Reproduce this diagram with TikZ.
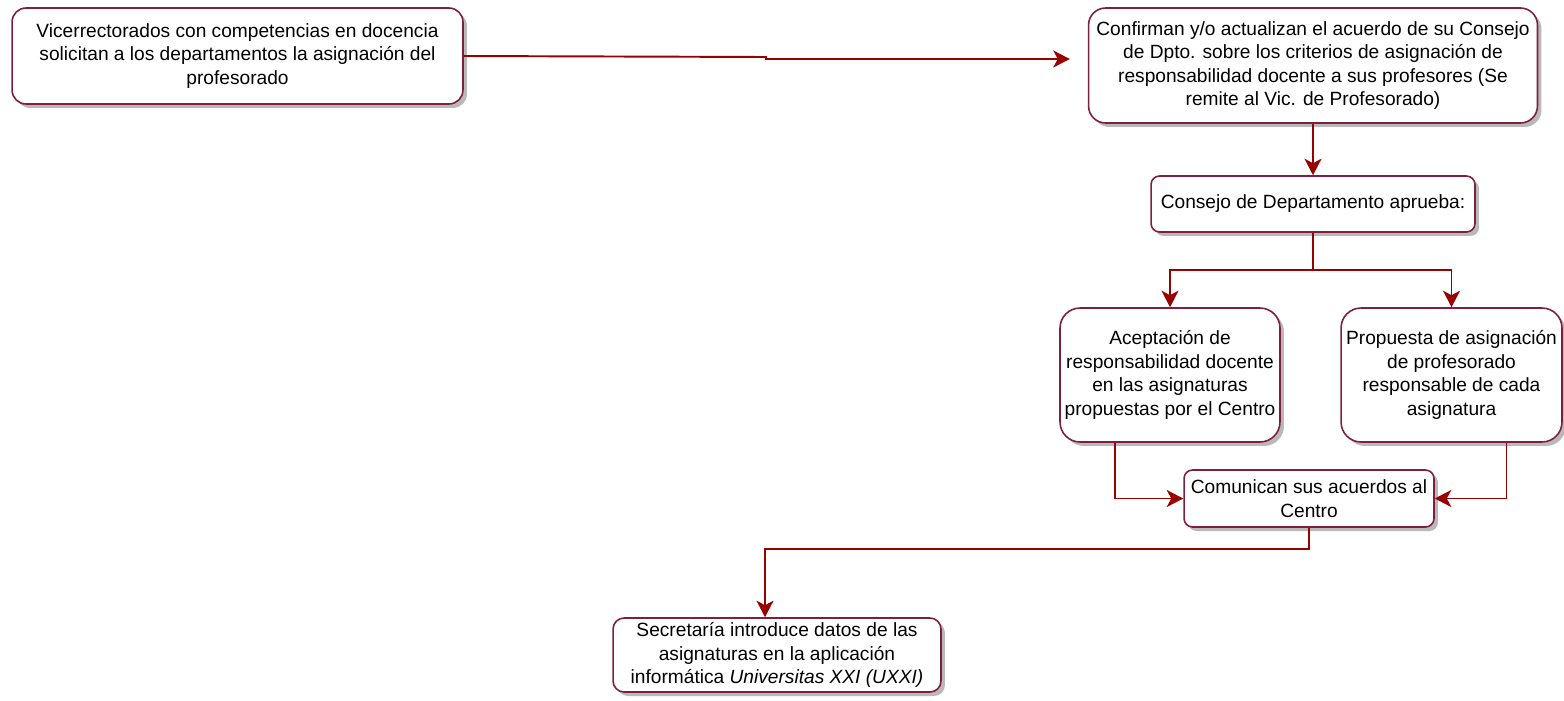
\documentclass[tikz,border=0pt]{standalone}
\usepackage{fontspec}
\setmainfont{Liberation Sans}
\usepackage{tikz}
\usetikzlibrary{arrows.meta}
\usetikzlibrary{positioning,calc,shapes,shadows}
\definecolor{boxline}{HTML}{7E1F42}
\definecolor{flowred}{HTML}{990000}
\tikzset{
    paso/.style={
        draw=boxline,
        fill=white,
        line width=0.9pt,
        align=center,
        inner sep=2pt,
        font=\fontsize{10.9}{13.4}\selectfont,
        drop shadow={shadow xshift=0.08cm, shadow yshift=-0.08cm, fill=black!55, opacity=0.5}
    },
    flow/.style={
        draw=flowred,
        line width=1.1pt,
        -{Stealth[length=0.33cm, width=0.34cm, inset=0.09cm]}
    }
}

\begin{document}
\begin{tikzpicture}[x=0.02cm, y=-0.02cm]
  \useasboundingbox (0,0) rectangle (1564,700);

  % Departamento y vicerrectorados
  \node[paso, rounded corners=0.28cm, minimum width=9.02cm, minimum height=1.92cm] (vic) at (237.5,56)
    {Vicerrectorados con competencias en docencia\\ solicitan a los departamentos la asignación del\\ profesorado};
  \node[paso, rounded corners=0.34cm, minimum width=8.98cm, minimum height=2.30cm] (conf) at (1313,65.5)
    {Confirman y/o actualizan el acuerdo de su Consejo\\ de Dpto. sobre los criterios de asignación de\\ responsabilidad docente a sus profesores (Se\\ remite al Vic. de Profesorado)};
  \node[paso, rounded corners=0.17cm, minimum width=6.48cm, minimum height=1.12cm] (cons) at (1313,204)
    {Consejo de Departamento aprueba:};

  % Las dos ramas
  \node[paso, rounded corners=0.4cm, minimum width=4.40cm, minimum height=2.68cm] (acep) at (1170,375)
    {Aceptación de\\ responsabilidad docente\\ en las asignaturas\\ propuestas por el Centro};
  \node[paso, rounded corners=0.4cm, minimum width=4.42cm, minimum height=2.68cm] (prop) at (1451.5,375)
    {Propuesta de asignación\\ de profesorado\\ responsable de cada\\ asignatura};

  % Centro y secretaria
  \node[paso, rounded corners=0.17cm, minimum width=5.00cm, minimum height=1.14cm] (comu) at (1309,498.5)
    {Comunican sus acuerdos al\\ Centro};
  \node[paso, rounded corners=0.22cm, minimum width=6.56cm, minimum height=1.48cm] (secr) at (777,655)
    {Secretaría introduce datos de las\\ asignaturas en la aplicación\\ informática \textit{Universitas XXI (UXXI)}};

  % Conectores
  \coordinate (jog) at (766,57);
  \draw[flow, shorten >=0.36cm] (vic.east) -- (jog) |- ($(conf.west)+(0,-6.5)$);
  \draw[flow] (conf.south) -- (cons.north);
  \draw[flow] (cons.south) -- ++(0,37) -| (acep.north);
  \draw[flow] (cons.south) -- ++(0,37) -| (prop.north);
  \draw[flow] ($(acep.south)+(-55,0)$) |- (comu.west);
  \draw[flow] ($(prop.south)+(55,0)$) |- (comu.east);
  \draw[flow] (comu.south) -- ++(0,21) -| ($(secr.north)+(-12,0)$);
\end{tikzpicture}
\end{document}
